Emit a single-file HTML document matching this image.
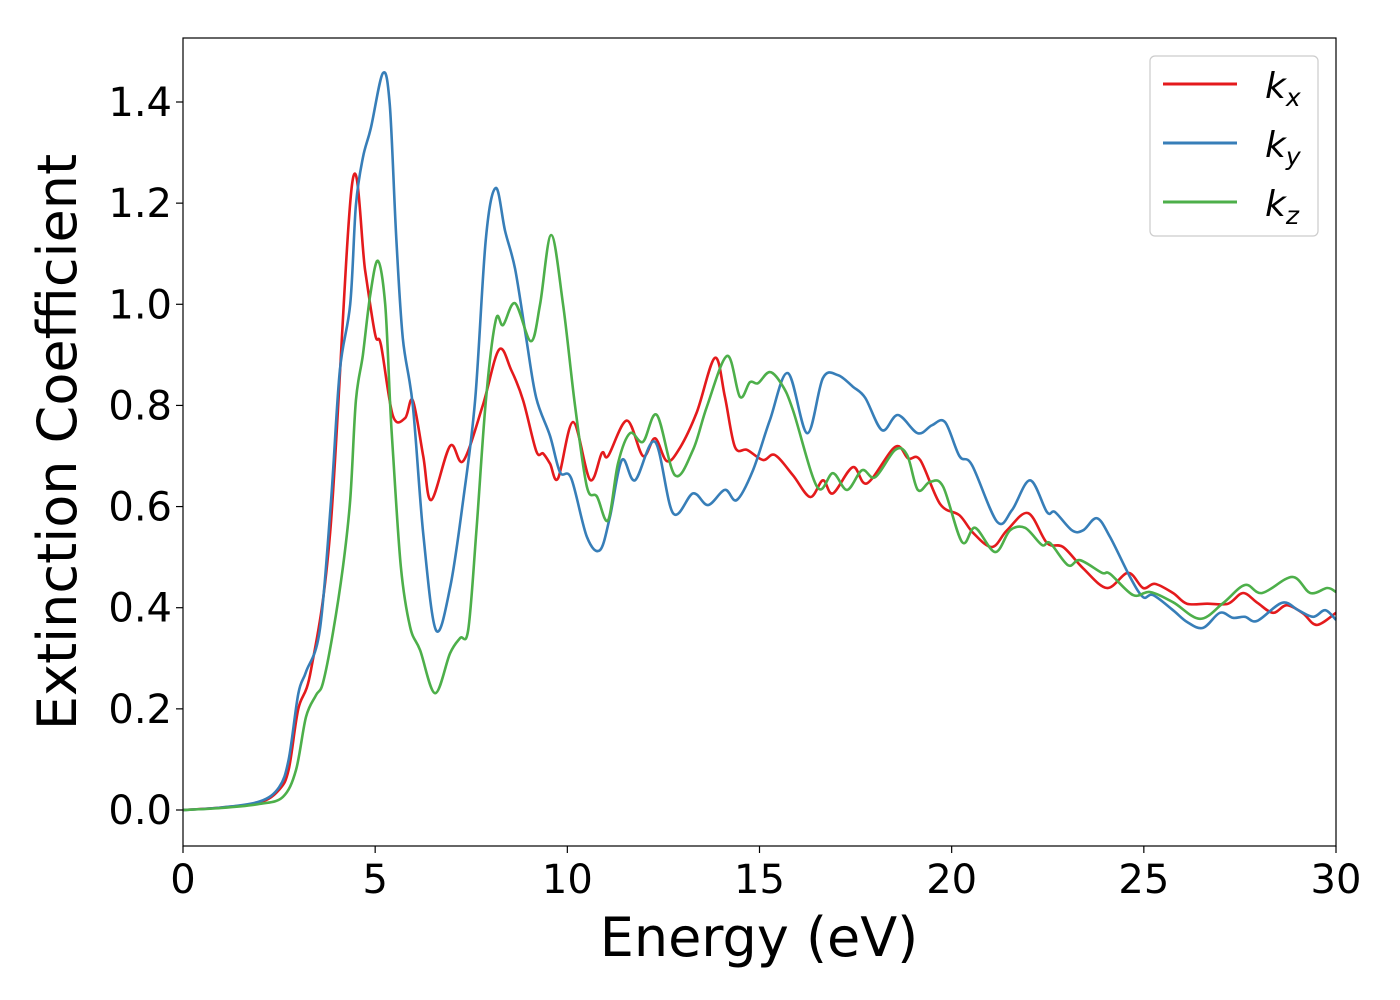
<!DOCTYPE html>
<html><head><meta charset="utf-8"><style>body{margin:0;background:#fff}svg{display:block}text{font-family:"DejaVu Sans","Liberation Sans",sans-serif}</style></head>
<body>
<svg id="chart" width="1400" height="1000" xmlns="http://www.w3.org/2000/svg">
<rect x="0" y="0" width="1400" height="1000" fill="#fff"/>
<g id="series"></g>
<rect x="183" y="38" width="1153" height="808" fill="none" stroke="#000" stroke-width="1.2"/>
<g id="axes"></g>
<text x="759" y="956" font-size="54" text-anchor="middle">Energy (eV)</text>
<text transform="translate(76,442) rotate(-90)" font-size="54" text-anchor="middle">Extinction Coefficient</text>
<g>
<rect x="1150" y="56" width="168" height="180" rx="5" fill="#fff" fill-opacity="0.8" stroke="#ccc" stroke-width="1.2"/>
<line x1="1163" y1="84" x2="1237" y2="84" stroke="#e41a1c" stroke-width="3"/>
<line x1="1163" y1="143" x2="1237" y2="143" stroke="#377eb8" stroke-width="3"/>
<line x1="1163" y1="202" x2="1237" y2="202" stroke="#4daf4a" stroke-width="3"/>
<text x="1265" y="98" font-size="36" font-style="italic">k<tspan font-size="25" dy="8">x</tspan></text>
<text x="1265" y="157" font-size="36" font-style="italic">k<tspan font-size="25" dy="8">y</tspan></text>
<text x="1265" y="216" font-size="36" font-style="italic">k<tspan font-size="25" dy="8">z</tspan></text>
</g>
</svg>
<script>
const xTicks=[0,5,10,15,20,25,30];
const yTicks=[0.0,0.2,0.4,0.6,0.8,1.0,1.2,1.4];
const yTickLabels=["0.0","0.2","0.4","0.6","0.8","1.0","1.2","1.4"];
const kxE=[0,1,2,2.5,2.75,3.0,3.33,3.83,4.4,4.74,5.0,5.15,5.46,5.78,5.98,6.25,6.46,6.95,7.29,7.8,8.22,8.54,8.85,9.19,9.37,9.55,9.76,10.15,10.59,10.9,11.06,11.55,11.97,12.28,12.59,12.93,13.37,13.84,14.1,14.36,14.68,15.09,15.4,15.87,16.32,16.65,16.91,17.43,17.8,18.53,18.87,19.18,19.7,20.2,20.56,21.05,21.44,21.99,22.48,22.9,23.42,24.04,24.59,24.98,25.29,25.76,26.12,26.65,27.19,27.58,27.95,28.36,28.72,29.14,29.5,30];
const kxV=[0,0.005,0.015,0.04,0.08,0.2,0.277,0.55,1.238,1.066,0.94,0.92,0.78,0.775,0.81,0.70,0.613,0.72,0.69,0.80,0.91,0.87,0.81,0.71,0.705,0.685,0.656,0.767,0.653,0.706,0.70,0.77,0.70,0.735,0.69,0.716,0.787,0.894,0.817,0.718,0.712,0.692,0.702,0.662,0.619,0.652,0.626,0.678,0.646,0.718,0.695,0.692,0.605,0.583,0.548,0.52,0.553,0.587,0.528,0.52,0.478,0.439,0.469,0.439,0.447,0.429,0.408,0.408,0.408,0.429,0.41,0.39,0.405,0.389,0.366,0.39];
const kyE=[0,1,2,2.5,2.75,3.0,3.2,3.56,3.85,4.08,4.35,4.5,4.68,4.89,5.2,5.38,5.55,5.72,5.98,6.25,6.58,6.95,7.29,7.6,7.88,8.14,8.38,8.64,8.93,9.19,9.55,9.81,10.1,10.51,10.85,11.11,11.42,11.76,12.28,12.75,13.27,13.66,14.1,14.41,14.83,15.27,15.74,16.24,16.65,17.04,17.43,17.75,18.19,18.6,19.12,19.49,19.83,20.2,20.53,21.18,21.57,22.04,22.48,22.69,23.13,23.42,23.78,24.12,24.64,24.98,25.24,25.76,26.12,26.54,26.98,27.32,27.63,27.95,28.6,29.02,29.41,29.72,30];
const kyV=[0,0.005,0.017,0.045,0.1,0.23,0.273,0.356,0.61,0.868,1.0,1.196,1.29,1.349,1.457,1.394,1.13,0.933,0.8,0.547,0.356,0.44,0.613,0.81,1.13,1.23,1.145,1.07,0.933,0.815,0.74,0.668,0.656,0.54,0.514,0.58,0.692,0.652,0.728,0.587,0.626,0.603,0.633,0.613,0.672,0.771,0.864,0.745,0.854,0.86,0.837,0.815,0.751,0.781,0.745,0.761,0.767,0.70,0.682,0.57,0.593,0.652,0.589,0.589,0.553,0.553,0.577,0.54,0.461,0.421,0.425,0.395,0.372,0.36,0.39,0.38,0.382,0.374,0.41,0.395,0.382,0.395,0.376];
const kzE=[0,1,2,2.6,2.94,3.2,3.46,3.64,3.9,4.16,4.35,4.5,4.68,4.87,5.07,5.26,5.39,5.46,5.67,5.91,6.17,6.56,6.95,7.21,7.42,7.63,7.88,8.14,8.33,8.64,9.05,9.29,9.58,9.89,10.2,10.51,10.77,11.06,11.32,11.63,11.97,12.33,12.8,13.27,13.63,14.16,14.49,14.75,14.96,15.27,15.59,15.87,16.5,16.91,17.28,17.67,18.01,18.53,18.84,19.12,19.44,19.78,20.27,20.61,21.13,21.52,21.91,22.35,22.56,23.03,23.34,23.91,24.12,24.72,25.16,25.76,26.46,27.06,27.63,28.08,28.86,29.33,29.77,30];
const kzV=[0,0.004,0.012,0.026,0.079,0.184,0.227,0.251,0.35,0.48,0.613,0.81,0.9,1.018,1.086,1.0,0.8,0.712,0.48,0.362,0.316,0.231,0.31,0.34,0.356,0.547,0.81,0.969,0.959,1.002,0.927,0.999,1.137,0.999,0.8,0.639,0.62,0.573,0.686,0.745,0.728,0.781,0.662,0.712,0.797,0.898,0.817,0.846,0.844,0.866,0.84,0.791,0.639,0.666,0.633,0.672,0.658,0.712,0.702,0.633,0.649,0.639,0.53,0.558,0.51,0.553,0.558,0.524,0.528,0.484,0.494,0.469,0.467,0.425,0.431,0.411,0.378,0.409,0.445,0.429,0.461,0.429,0.439,0.431];
const NS="http://www.w3.org/2000/svg";
const X=e=>183+e*(1153/30);
const Y=v=>810-v*(708/1.4);
function pathFor(E,V){
  const p=E.map((e,i)=>[X(e),Y(V[i])]);
  let d="M"+p[0][0].toFixed(1)+","+p[0][1].toFixed(1);
  for(let i=0;i<p.length-1;i++){
    const p0=p[Math.max(0,i-1)],p1=p[i],p2=p[i+1],p3=p[Math.min(p.length-1,i+2)];
    const c1x=p1[0]+(p2[0]-p0[0])/6,c1y=p1[1]+(p2[1]-p0[1])/6;
    const c2x=p2[0]-(p3[0]-p1[0])/6,c2y=p2[1]-(p3[1]-p1[1])/6;
    d+=" C"+c1x.toFixed(1)+","+c1y.toFixed(1)+" "+c2x.toFixed(1)+","+c2y.toFixed(1)+" "+p2[0].toFixed(1)+","+p2[1].toFixed(1);
  }
  return d;
}
const sg=document.getElementById('series');
[[kxE,kxV,'#e41a1c','series-kx'],[kyE,kyV,'#377eb8','series-ky'],[kzE,kzV,'#4daf4a','series-kz']].forEach(s=>{
  const el=document.createElementNS(NS,'path');
  el.setAttribute('d',pathFor(s[0],s[1]));
  el.setAttribute('fill','none');el.setAttribute('stroke',s[2]);el.setAttribute('stroke-width','2.6');
  
  
  sg.appendChild(el);
});
const ax=document.getElementById('axes');
xTicks.forEach(t=>{
  const l=document.createElementNS(NS,'line');
  l.setAttribute('x1',X(t));l.setAttribute('x2',X(t));l.setAttribute('y1',846);l.setAttribute('y2',853);l.setAttribute('stroke','#000');l.setAttribute('stroke-width','1.2');
  
  
  ax.appendChild(l);
  const tx=document.createElementNS(NS,'text');
  tx.setAttribute('x',X(t));tx.setAttribute('y',893);tx.setAttribute('font-size','40');tx.setAttribute('text-anchor','middle');
  tx.textContent=String(t);
  
  
  ax.appendChild(tx);
});
yTicks.forEach((t,i)=>{
  const l=document.createElementNS(NS,'line');
  l.setAttribute('x1',176);l.setAttribute('x2',183);l.setAttribute('y1',Y(t));l.setAttribute('y2',Y(t));l.setAttribute('stroke','#000');l.setAttribute('stroke-width','1.2');
  
  
  ax.appendChild(l);
  const tx=document.createElementNS(NS,'text');
  tx.setAttribute('x',172);tx.setAttribute('y',Y(t)+14);tx.setAttribute('font-size','40');tx.setAttribute('text-anchor','end');
  tx.textContent=yTickLabels[i];
  
  
  ax.appendChild(tx);
});
</script>
</body></html>
